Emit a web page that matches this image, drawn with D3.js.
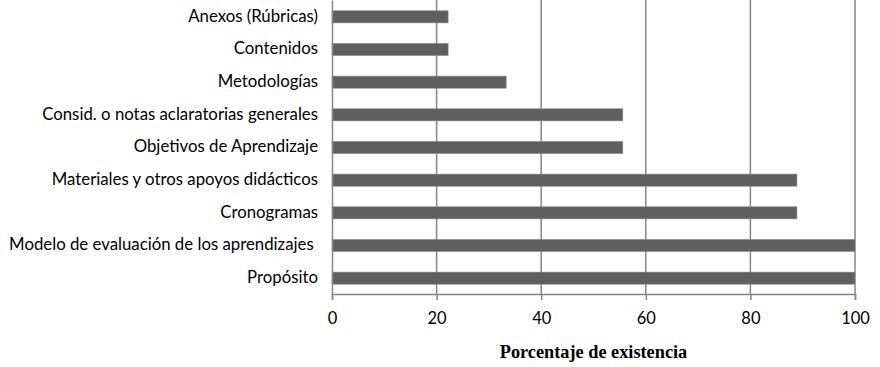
<!DOCTYPE html>
<html><head><meta charset="utf-8">
<script src="https://cdn.jsdelivr.net/npm/d3@7"></script>
<style>body{margin:0;background:#fff}svg{display:block}</style>
</head><body>
<svg id="c" width="880" height="367"></svg>
<script>
const categories = ["Anexos (Rúbricas)","Contenidos","Metodologías","Consid. o notas aclaratorias generales","Objetivos de Aprendizaje","Materiales y otros apoyos didácticos","Cronogramas","Modelo de evaluación de los aprendizajes ","Propósito"];
const values = [22.2,22.2,33.3,55.6,55.6,88.9,88.9,100,100];
const ticks = [0,20,40,60,80,100];
const xTitle = "Porcentaje de existencia";

const svg = d3.select("#c");
const m = {left:332, right:855, top:0, bottom:294};
const x = d3.scaleLinear().domain([0,100]).range([m.left,m.right]);
const y = d3.scaleBand().domain(categories).range([m.top,m.bottom]).paddingInner(0.63).paddingOuter(0.315);

// gridlines
svg.append("g").selectAll("line").data(ticks.slice(1)).join("line")
  .attr("x1",d=>x(d)).attr("x2",d=>x(d)).attr("y1",m.top).attr("y2",m.bottom)
  .attr("stroke","#868686").attr("stroke-width",1.5);

// bars
svg.append("g").selectAll("rect").data(values).join("rect")
  .attr("x",x(0)).attr("y",(d,i)=>y(categories[i])+0.5)
  .attr("width",d=>x(d)-x(0)).attr("height",y.bandwidth())
  .attr("fill","#5f5f5f").attr("stroke","#8a8a8a").attr("stroke-width",0.6);

// x axis
const xa = svg.append("g").attr("transform",`translate(0,${m.bottom})`)
  .call(d3.axisBottom(x).tickValues(ticks).tickSize(6).tickPadding(12));
xa.select(".domain").attr("stroke","#868686").attr("stroke-width",1.5);
xa.selectAll(".tick line").attr("stroke","#868686").attr("stroke-width",1.5);
xa.selectAll("text").attr("font-family","Lato, 'Open Sans', sans-serif").attr("font-size",16.5).attr("fill","#000");

// y axis
const ya = svg.append("g").attr("transform",`translate(${m.left},0)`)
  .call(d3.axisLeft(y).tickSize(0).tickPadding(14));
ya.select(".domain").attr("stroke","#868686").attr("stroke-width",1.5);
ya.selectAll("text").attr("font-family","Lato, 'Open Sans', sans-serif").attr("font-size",16.8).attr("fill","#000").style("white-space","pre");

svg.append("text").attr("x",(m.left+m.right)/2).attr("y",358).attr("text-anchor","middle")
  .attr("font-family","'Liberation Serif', 'Times New Roman', serif").attr("font-weight","bold").attr("font-size",18.3)
  .text(xTitle);
</script>
</body></html>
